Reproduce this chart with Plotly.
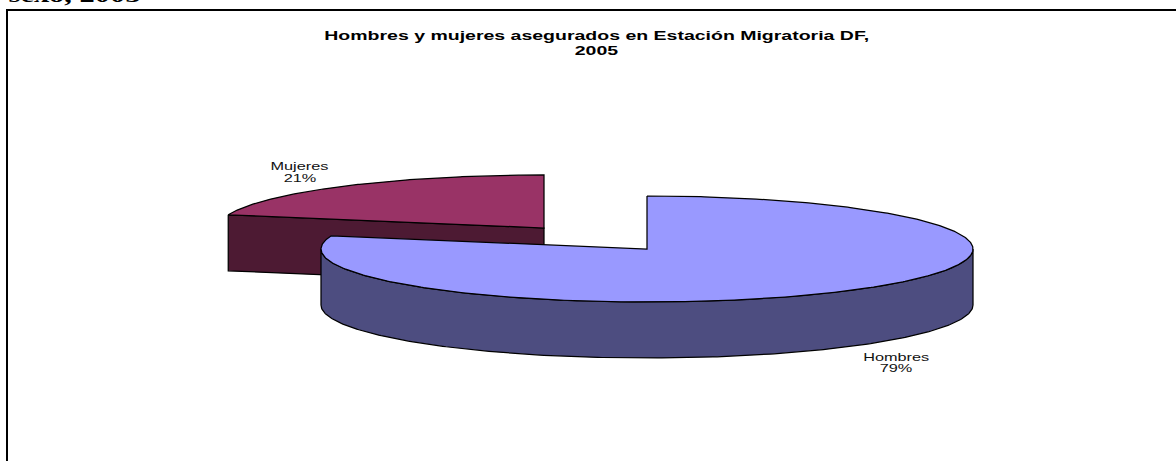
import numpy as np
import plotly.graph_objects as go

categories = ["Hombres", "Mujeres"]
values = [79, 21]
title_lines = ["Hombres y mujeres asegurados en Estación Migratoria DF,", "2005"]
clipped_heading = "sexo, 2005"

RX, RY, DEPTH = 326, 53, 56
CENTER_H = (647, 249)
CENTER_M = (544, 228)
share = values[0] / sum(values)
split = share * 2 * np.pi  # clockwise from 12 o'clock


def arc(c, a0, a1, dy=0, n=240):
    t = np.linspace(a0, a1, n)
    return c[0] + RX * np.sin(t), c[1] - RY * np.cos(t) + dy


def add(fig, x, y, fill):
    fig.add_trace(go.Scatter(x=list(x), y=list(y), mode="lines", fill="toself", fillcolor=fill,
                             line=dict(color="black", width=1.25), hoverinfo="skip", showlegend=False))


fig = go.Figure()

# Mujeres: top surface and radial wall
ax, ay = arc(CENTER_M, split, 2 * np.pi)
tip_x, tip_y = ax[0], ay[0]
add(fig, [tip_x, CENTER_M[0], CENTER_M[0], tip_x, tip_x],
    [tip_y, CENTER_M[1], CENTER_M[1] + DEPTH, tip_y + DEPTH, tip_y], "#4D1A33")
add(fig, list(ax) + [CENTER_M[0], ax[0]], list(ay) + [CENTER_M[1], ay[0]], "#993366")

# Hombres: outer wall and top surface
wx1, wy1 = arc(CENTER_H, np.pi / 2, 3 * np.pi / 2)
wx2, wy2 = arc(CENTER_H, 3 * np.pi / 2, np.pi / 2, dy=DEPTH)
add(fig, list(wx1) + list(wx2) + [wx1[0]], list(wy1) + list(wy2) + [wy1[0]], "#4D4D80")
tx, ty = arc(CENTER_H, 0, split, n=480)
add(fig, list(tx) + [CENTER_H[0], tx[0]], list(ty) + [CENTER_H[1], ty[0]], "#9999FF")


def note(x, y, text, **font):
    fig.add_annotation(x=x, y=y, text=text, showarrow=False, borderpad=0, font=font)


lab = dict(family="Liberation Sans", size=11, color="#111111")
note(300, 166, categories[1], **lab)
note(300, 178, f"{values[1]}%", **lab)
note(896, 357, categories[0], **lab)
note(896, 368, f"{values[0]}%", **lab)
bold = dict(family="Liberation Sans", size=13, color="black", weight="bold")
note(596, 35, title_lines[0], **bold)
note(596, 50, title_lines[1], **bold)
fig.add_annotation(x=74.5, y=8, yanchor="bottom", text=clipped_heading, showarrow=False, borderpad=0,
                   font=dict(family="Liberation Serif", size=21, color="black", weight="bold"))

line = dict(color="black", width=2)
fig.add_shape(type="line", x0=7, x1=7, y0=9, y1=461, line=line)
fig.add_shape(type="line", x0=6, x1=1176, y0=10, y1=10, line=line)

fig.update_layout(width=1176, height=461, margin=dict(l=0, r=0, t=0, b=0), paper_bgcolor="white",
                  plot_bgcolor="white",
                  xaxis=dict(range=[0, 1176], visible=False, fixedrange=True),
                  yaxis=dict(range=[461, 0], visible=False, fixedrange=True))

# The reference text is horizontally stretched; scale the real SVG text about its own centre.
post = """
document.body.style.margin = '0';
var stretch = {'11': 1.48, '13': 1.5, '21': 1.45};
document.querySelectorAll('.annotation-text').forEach(function (t) {
  var s = stretch[String(parseFloat(getComputedStyle(t).fontSize))] || 1;
  var b = t.getBBox();
  var c = b.x + b.width / 2;
  t.setAttribute('transform', 'translate(' + c + ',0) scale(' + s + ',1) translate(' + (-c) + ',0)');
});
"""
fig.write_html("out.html", config=dict(displayModeBar=False), post_script=post)
